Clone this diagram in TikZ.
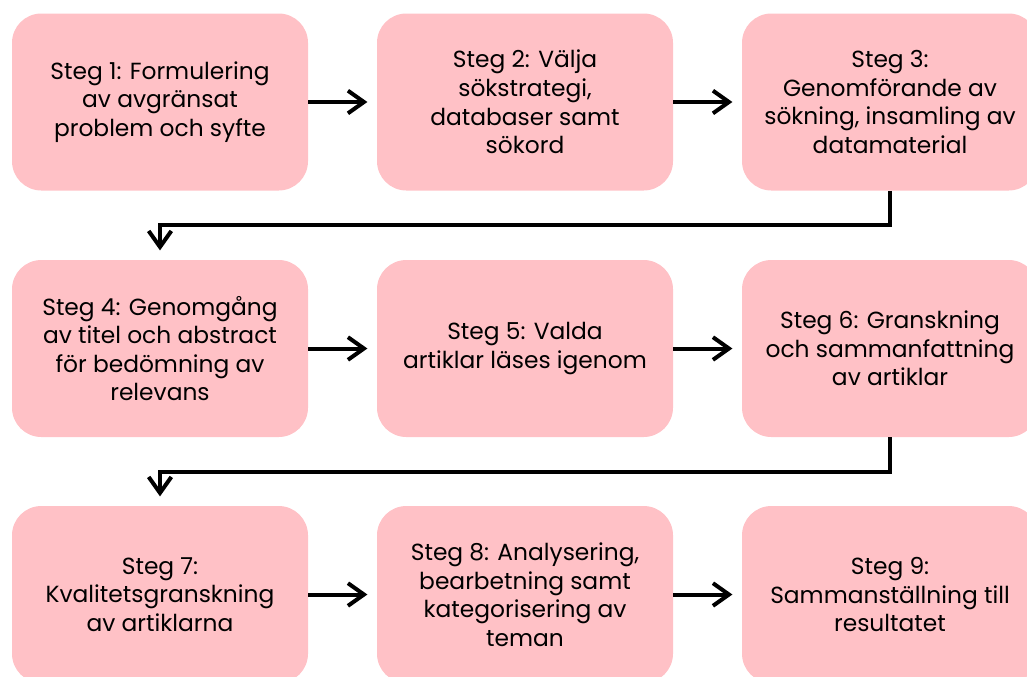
\documentclass[tikz,border=0pt]{standalone}
\usepackage{fontspec}
\setmainfont{Poppins}
\usetikzlibrary{arrows.meta}
\definecolor{boxpink}{HTML}{FFC1C6}
\tikzset{
  stepbox/.style={fill=boxpink, rounded corners=22pt, minimum width=222pt,
    minimum height=132.75pt, inner sep=0pt, align=center,
    font=\fontsize{17.5}{21.4}\selectfont},
  conn/.style={line width=3pt, -{Straight Barb[length=12pt,width=17pt]}, shorten >=7pt}
}
\begin{document}
\begin{tikzpicture}[x=0.75pt,y=-0.75pt]
\useasboundingbox (0,0) rectangle (1027,676);
\node[stepbox] (b1) at (160,102) {Steg 1: Formulering\\av avgränsat\\problem och syfte};
\node[stepbox] (b2) at (525,102) {Steg 2: Välja\\sökstrategi,\\databaser samt\\sökord};
\node[stepbox] (b3) at (890,102) {Steg 3:\\Genomförande av\\sökning, insamling av\\datamaterial};
\node[stepbox] (b4) at (160,348.5) {Steg 4: Genomgång\\av titel och abstract\\för bedömning av\\relevans};
\node[stepbox] (b5) at (525,348.5) {Steg 5: Valda\\artiklar läses igenom};
\node[stepbox] (b6) at (890,348.5) {Steg 6: Granskning\\och sammanfattning\\av artiklar};
\node[stepbox] (b7) at (160,594.5) {Steg 7:\\Kvalitetsgranskning\\av artiklarna};
\node[stepbox] (b8) at (525,594.5) {Steg 8: Analysering,\\bearbetning samt\\kategorisering av\\teman};
\node[stepbox] (b9) at (890,594.5) {Steg 9:\\Sammanställning till\\resultatet};
\draw[conn] (b1) -- (b2);
\draw[conn] (b2) -- (b3);
\draw[conn] (b4) -- (b5);
\draw[conn] (b5) -- (b6);
\draw[conn] (b7) -- (b8);
\draw[conn] (b8) -- (b9);
\draw[conn] (b3.south) -- ++(0,34) -| (b4.north);
\draw[conn] (b6.south) -- ++(0,35) -| (b7.north);
\end{tikzpicture}
\end{document}
